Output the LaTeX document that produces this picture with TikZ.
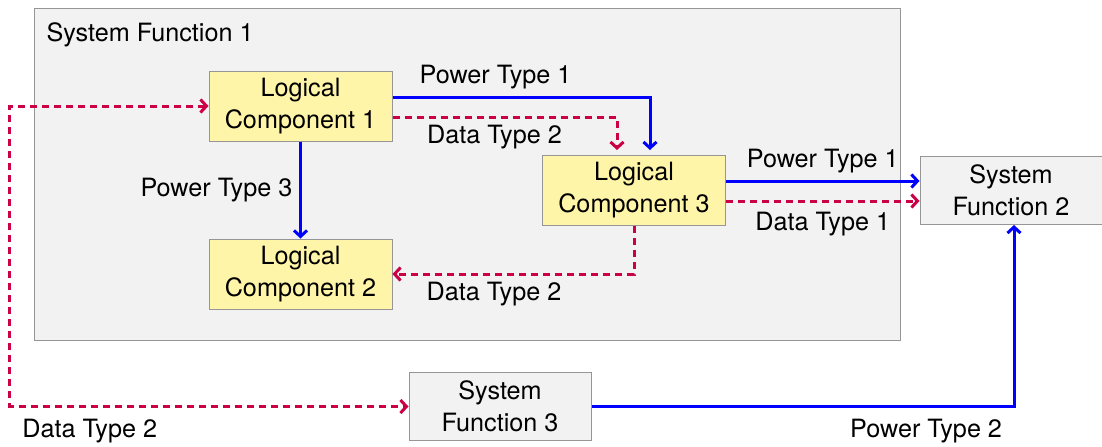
\documentclass[tikz,border=0pt]{standalone}
\usepackage{fontspec}
\setmainfont{TeX Gyre Heros}
\usetikzlibrary{arrows.meta}
\definecolor{datared}{RGB}{204,0,68}
\definecolor{lcyellow}{RGB}{255,245,168}
\definecolor{boxgray}{RGB}{242,242,242}
\definecolor{edgegray}{RGB}{150,150,150}
\tikzstyle{logic} = [rectangle, draw=edgegray, line width=0.5pt, fill=lcyellow, align=center, minimum width=91.5pt, minimum height=35pt]
\tikzstyle{sysfun} = [rectangle, draw=edgegray, line width=0.5pt, fill=boxgray, align=center, minimum width=91pt, minimum height=34pt]
\tikzstyle{blank} = [inner sep=0,outer sep=0]
\tikzstyle{power} = [draw=blue, line width=1.5pt, ->]
\tikzstyle{data} = [draw=datared, line width=1.5pt, dash pattern=on 3.5pt off 2.5pt, ->]

\begin{document}
\begin{tikzpicture}[>={Straight Barb[length=3pt,width=6.5pt]}, font=\fontsize{12.6}{16}\selectfont]
\useasboundingbox (-150.25pt,53pt) rectangle (400.75pt,-170pt);

\node [sysfun, minimum width=432.5pt, minimum height=166pt] (F1) at (83.5pt,-34pt) {};
\node [anchor=north west, xshift=2.5pt, yshift=-4pt] (T1) at (F1.north west) {System Function 1};

\node [logic] (L1) at (0,0) {Logical\\Component 1};
\node [logic, below of=L1, node distance=84pt] (L2) {Logical\\Component 2};
\node [logic, right of=L1, node distance=166.75pt, yshift=-42.25pt] (L3) {Logical\\Component 3};
\node [sysfun, right of=L3, node distance=188.5pt] (S2) {System\\Function 2};
\node [sysfun, below of=L2, node distance=66.25pt, xshift=99.75pt] (S3) {System\\Function 3};
\coordinate [left of=L1, node distance=145.25pt] (DL);

\path [power, shorten >=2.5pt] ([yshift=4.5pt]L1.east) -| node[above, pos=0.2] (p1) {Power Type 1} ([xshift=8pt]L3.north);
\path [data, shorten >=2.5pt] ([yshift=-5.5pt]L1.east) -| node[below, pos=0.227] (d1) {Data Type 2} ([xshift=-8.5pt]L3.north);
\path [power] (L1) -- node[left] (p2) {Power Type 3} (L2);

\path [power] ([yshift=4.75pt]L3.east) -- node[above] (p3) {Power Type 1} ([yshift=4.75pt]L3.east -| S2.west);
\path [data] ([yshift=-5.25pt]L3.east) -- node[below=1.5pt] (d2) {Data Type 1} ([yshift=-5.25pt]L3.east -| S2.west);
\path [data] (L3.south) |- node[below, pos=0.79] (d3) {Data Type 2} (L2.east);

\path [data, <->] (L1.west) -- (DL) |- node[below=2pt, pos=0.6] (d4) {Data Type 2} (S3.west);
\path [power] (S3.east) -| node[below=2pt, pos=0.396] (p4) {Power Type 2} ([xshift=1.5pt]S2.south);

\end{tikzpicture}
\end{document}
